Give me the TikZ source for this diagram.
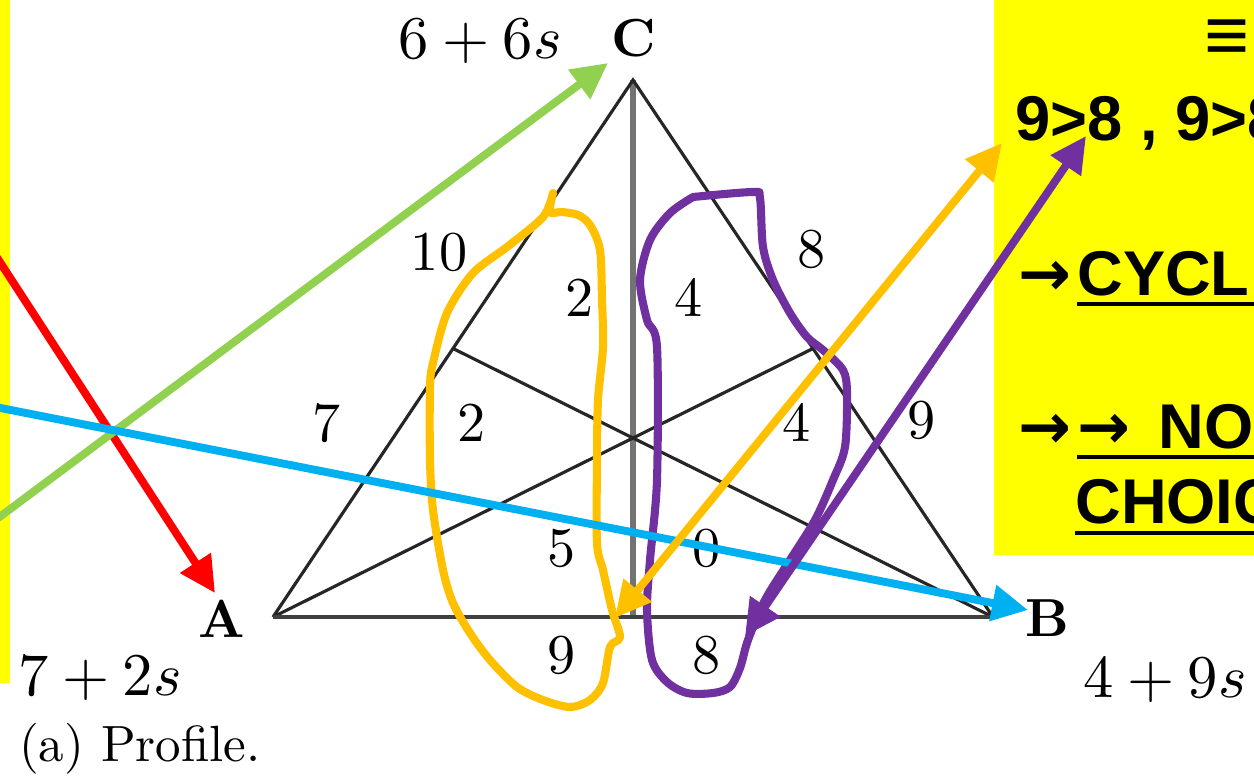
\documentclass[tikz,border=0pt]{standalone}
\usepackage{fontspec}
\usepackage{amsmath}
\usepackage{tikz}
\usetikzlibrary{arrows.meta}
\newfontfamily\notefont{Liberation Sans}
\newfontfamily\arrowfont{DejaVu Sans}
\definecolor{NoteYellow}{HTML}{FFFF00}
\definecolor{ArrowRed}{HTML}{FF0000}
\definecolor{ArrowGreen}{HTML}{92D050}
\definecolor{ArrowBlue}{HTML}{00B0F0}
\definecolor{ArrowOrange}{HTML}{FFC000}
\definecolor{ArrowPurple}{HTML}{7030A0}
\tikzset{
  region/.style={scale=3.2,inner sep=0pt},
  tally/.style={scale=3.45,inner sep=0pt},
  vertex/.style={font=\bfseries,scale=3.05,inner sep=0pt},
  note/.style={font=\fontsize{36}{42}\selectfont\notefont\bfseries,anchor=base west,inner sep=0pt},
  pen/.style={line width=4.5pt,-{Triangle[length=0.72cm,width=0.70cm]}},
  twopen/.style={line width=4.5pt,{Triangle[length=0.72cm,width=0.70cm]}-{Triangle[length=0.72cm,width=0.70cm]}},
  ring/.style={line width=4.6pt,line cap=round,line join=round},
  trside/.style={line width=1.8pt,draw=black!85},
  median/.style={line width=3pt,draw=black!55},
  uline/.style={line width=2.2pt},
}
\begin{document}
\begin{tikzpicture}[x=0.02cm,y=-0.02cm]
  \useasboundingbox (0,0) rectangle (1254,779);
  \clip (0,0) rectangle (1254,779);
  % yellow note
  \fill[NoteYellow] (0,0) rectangle (10,683);
  \fill[NoteYellow] (994,0) rectangle (1254,555);
  \node[note,font=\fontsize{44}{50}\selectfont\notefont\bfseries,anchor=center] (equiv) at (1227,41) {≡};
  \node[note] (pref) at (1015,140) {9>8 , 9>8};
  \node[note] (arrA) at (1018,295) {\arrowfont →};
  \node[note] (cycl) at (1077,295) {CYCL};
  \node[note] (arrB) at (1018,448) {\arrowfont →};
  \node[note] (nochoice) at (1077,448) {{\arrowfont →}\, NO};
  \node[note] (choice) at (1075,523) {CHOIC};
  \draw[uline] ([yshift=-0.18cm]cycl.base west) -- ++(200,0);
  \draw[uline] ([yshift=-0.18cm]nochoice.base west) -- ++(200,0);
  \draw[uline] ([yshift=-0.2cm]choice.base west) -- ++(200,0);
  % triangle
  \coordinate (vA) at (273,617);
  \coordinate (vB) at (993,617);
  \coordinate (vC) at (633,80);
  \coordinate (mAB) at (633,617);
  \coordinate (mBC) at (813,348.5);
  \coordinate (mAC) at (453,348.5);
  \draw[median] (vC) -- (mAB);
  \draw[trside] (vA) -- (vC) -- (vB);
  \draw[trside] (vA) -- (mBC);
  \draw[trside] (vB) -- (mAC);
  \draw[trside,line width=2.4pt,draw=black!75] (vA) -- (vB);
  \node[vertex] (lblA) at (222,619) {A};
  \node[vertex] (lblB) at (1047,618) {B};
  \node[vertex] (lblC) at (634,38) {C};
  \node[tally] (sumC) at (480,41) {$6+6s$};
  \node[tally] (sumA) at (100,678) {$7+2s$};
  \node[tally] (sumB) at (1165,680) {$4+9s$};
  \node[region] (r10) at (439,252) {10};
  \node[region] (r2a) at (580,298) {2};
  \node[region] (r4a) at (689,297) {4};
  \node[region] (r8a) at (812,249) {8};
  \node[region] (r7) at (327,423) {7};
  \node[region] (r2b) at (472,423) {2};
  \node[region] (r4b) at (797,422) {4};
  \node[region] (r9a) at (922,420) {9};
  \node[region] (r5) at (562,548) {5};
  \node[region] (r0) at (707,548) {0};
  \node[region] (r9b) at (562,655) {9};
  \node[region] (r8b) at (707,655) {8};
  \node[scale=2.9,anchor=west,inner sep=0pt] (caption) at (18,749) {(a) Profile.};
  % hand drawn rings
  \draw[ring,draw=ArrowOrange] plot[smooth,tension=0.5] coordinates {(553,193) (550,212) (562,212) (578,215) (590,225) (600,250) (602,300) (603,347) (598,400) (597,460) (597,543) (603,570) (612,610) (620,637) (610,647) (603,683) (590,700) (570,707) (543,700) (517,687) (490,660) (470,633) (453,603) (443,570) (433,510) (430,460) (430,387) (433,363) (447,313) (473,273) (507,247) (543,217) (553,193)};
  \draw[ring,draw=ArrowPurple] plot[smooth,tension=0.5] coordinates {(693,197) (753,192) (760,198) (763,247) (773,280) (790,313) (807,337) (823,350) (843,370) (847,393) (845,447) (833,480) (815,520) (790,560) (765,600) (748,640) (740,668) (730,687) (713,693) (687,693) (667,682) (652,660) (647,610) (650,560) (657,480) (657,347) (647,320) (640,280) (650,240) (670,213) (693,197)};
  % arrows
  \coordinate (redfrom) at (-30,216);
  \coordinate (redto) at (215,593);
  \coordinate (greenfrom) at (-30,539);
  \coordinate (greento) at (608,63);
  \coordinate (bluefrom) at (-30,402);
  \coordinate (blueto) at (1028,610);
  \coordinate (orangelow) at (615,618);
  \coordinate (orangehigh) at (1002,143);
  \coordinate (purplelow) at (745,636);
  \coordinate (purplehigh) at (1086,136);
  \draw[pen,draw=ArrowRed,fill=ArrowRed] (redfrom) -- (redto);
  \draw[pen,draw=ArrowGreen,fill=ArrowGreen] (greenfrom) -- (greento);
  \draw[pen,draw=ArrowBlue,fill=ArrowBlue] (bluefrom) -- (blueto);
  \draw[twopen,draw=ArrowOrange,fill=ArrowOrange] (orangelow) -- (orangehigh);
  \draw[twopen,draw=ArrowPurple,fill=ArrowPurple] (purplelow) -- (purplehigh);
\end{tikzpicture}
\end{document}
